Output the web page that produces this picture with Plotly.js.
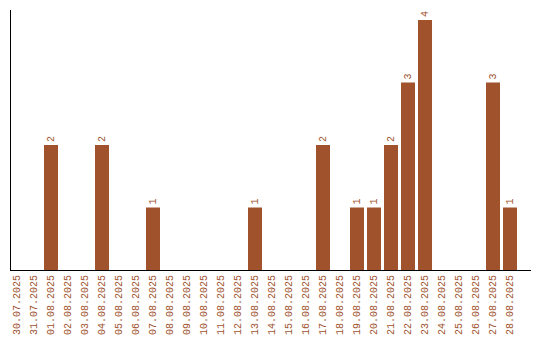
<!DOCTYPE html>
<html>
<head>
<meta charset="utf-8">
<script src="https://cdn.plot.ly/plotly-3.0.1.min.js"></script>
<style>html,body{margin:0;padding:0;background:#fff;}#chart{width:540px;height:340px;}</style>
</head>
<body>
<div id="chart"></div>
<script>
const dates = ["30.07.2025","31.07.2025","01.08.2025","02.08.2025","03.08.2025","04.08.2025","05.08.2025","06.08.2025","07.08.2025","08.08.2025","09.08.2025","10.08.2025","11.08.2025","12.08.2025","13.08.2025","14.08.2025","15.08.2025","16.08.2025","17.08.2025","18.08.2025","19.08.2025","20.08.2025","21.08.2025","22.08.2025","23.08.2025","24.08.2025","25.08.2025","26.08.2025","27.08.2025","28.08.2025"];
const counts = [0,0,2,0,0,2,0,0,1,0,0,0,0,0,1,0,0,0,2,0,1,1,2,3,4,0,0,0,3,1];
const labels = counts.map(v => v > 0 ? String(v) : "");

const barColor = "#a0522d";
const fontFam = "Liberation Mono, monospace";

Plotly.newPlot("chart", [{
  type: "bar",
  x: dates,
  y: counts,
  text: labels,
  textposition: "outside",
  textangle: -90,
  cliponaxis: false,
  textfont: {family: fontFam, size: 10, color: barColor},
  marker: {color: barColor},
  hoverinfo: "none"
}], {
  width: 540, height: 340,
  margin: {l: 11, r: 9, t: 10, b: 70, pad: 0},
  paper_bgcolor: "#fff", plot_bgcolor: "#fff",
  bargap: 0.176,
  showlegend: false,
  xaxis: {
    type: "category",
    range: [-0.353, 30.235],
    tickangle: -90,
    ticks: "",
    showline: true, linecolor: "#000", linewidth: 1,
    showgrid: false, zeroline: false,
    tickfont: {family: fontFam, size: 10, color: barColor},
    fixedrange: true
  },
  yaxis: {
    range: [0, 4.16],
    showline: true, linecolor: "#000", linewidth: 1,
    showticklabels: false, ticks: "",
    showgrid: false, zeroline: false,
    fixedrange: true
  }
}, {displayModeBar: false, staticPlot: true});
</script>
</body>
</html>
